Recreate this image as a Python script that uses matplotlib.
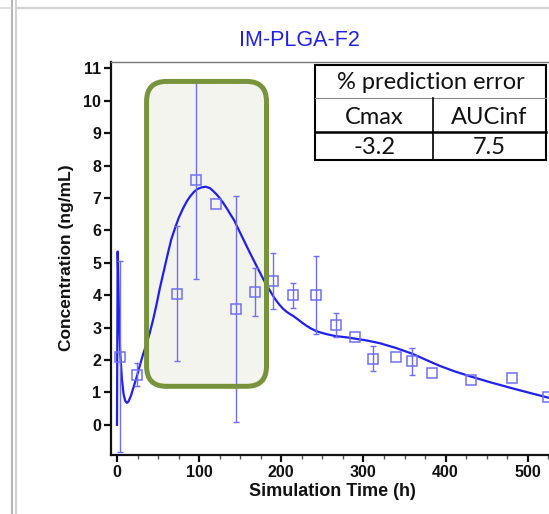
import numpy as np
import matplotlib
matplotlib.use("Agg")
import matplotlib.pyplot as plt
from matplotlib.patches import FancyBboxPatch, Rectangle
from matplotlib.lines import Line2D
from matplotlib.ticker import MultipleLocator

# ---------------- data ----------------
title = "IM-PLGA-F2"
xlabel = "Simulation Time (h)"
ylabel = "Concentration (ng/mL)"

# simulated profile
sim_t = [0, 0.8, 1.5, 2.5, 4, 6, 8, 10, 12, 14, 17, 20, 24, 28, 32, 36, 40, 44, 48,
         52, 57, 62, 66, 71, 75, 80, 85, 89, 94, 98, 103, 108, 113, 117, 121, 125,
         129, 134, 138, 143, 147, 152, 157, 162, 166, 170, 174, 178, 182, 186, 190,
         194, 198, 202, 206, 210, 214, 220, 225, 230, 235, 242, 248, 255, 266, 280,
         290, 305, 320, 340, 360, 375, 393, 410, 431, 455, 481, 505, 525, 535]
sim_c = [0, 5.35, 4.6, 3.3, 2.2, 1.4, 0.95, 0.74, 0.68, 0.72, 0.9, 1.15, 1.48, 1.85,
         2.2, 2.5, 2.85, 3.25, 3.7, 4.2, 4.75, 5.3, 5.72, 6.1, 6.38, 6.66, 6.9, 7.05,
         7.2, 7.28, 7.33, 7.35, 7.31, 7.22, 7.12, 7.0, 6.86, 6.67, 6.5, 6.3, 6.08,
         5.82, 5.56, 5.3, 5.1, 4.9, 4.7, 4.5, 4.32, 4.15, 3.98, 3.83, 3.7, 3.59, 3.5,
         3.43, 3.37, 3.26, 3.16, 3.07, 2.99, 2.9, 2.85, 2.8, 2.74, 2.7, 2.66, 2.6,
         2.52, 2.37, 2.19, 2.02, 1.82, 1.66, 1.49, 1.31, 1.13, 0.97, 0.84, 0.78]

# observed data (mean, SD; NaN = no error bar)
obs_t = [4, 24, 72.5, 96, 120.5, 144.5, 168, 189.5, 214, 242, 266, 290, 312, 339.5,
         359.5, 383, 431, 481, 525]
obs_c = [2.11, 1.55, 4.05, 7.57, 6.82, 3.57, 4.10, 4.43, 4.0, 4.0, 3.07, 2.71, 2.04,
         2.08, 1.96, 1.60, 1.37, 1.44, 0.87]
obs_sd = [2.94, 0.36, 2.08, 3.08, np.nan, 3.49, 0.74, 0.86, 0.39, 1.2, 0.37, np.nan,
          0.39, np.nan, 0.41, np.nan, np.nan, np.nan, np.nan]

table_header = "% prediction error"
table_cols = ["Cmax", "AUCinf"]
table_vals = ["-3.2", "7.5"]

# highlight region (data coords)
box_t = (36, 182)
box_c = (1.19, 10.6)

# ---------------- figure ----------------
W, H = 549, 514
fig = plt.figure(figsize=(W / 100, H / 100), dpi=100)
fig.patch.set_facecolor("white")

def fx(px):
    return px / W

def fy(py):
    return 1 - py / H

ax = fig.add_axes([fx(111), fy(455), fx(555) - fx(111), fy(62) - fy(455)])
ax.set_xlim(-7.3, 533.2)
ax.set_ylim(-0.93, 11.2)

line_col = "#1f1ff0"
obs_col = "#6f6ff5"

ax.plot(sim_t, sim_c, color=line_col, lw=1.6, zorder=3)

t = np.array(obs_t)
c = np.array(obs_c)
sd = np.array(obs_sd)
m = ~np.isnan(sd)
ax.errorbar(t[m], c[m], yerr=sd[m], fmt="none", ecolor=obs_col, elinewidth=1.0,
            capsize=2.5, capthick=1.0, zorder=3)
ax.plot(t, c, "s", mfc="none", mec=obs_col, mew=1.1, ms=6.5, zorder=4, clip_on=False)

# highlight box
rs = 24.0
asp = 0.62 / 24.0
fill = FancyBboxPatch((box_t[0], box_c[0]), box_t[1] - box_t[0], box_c[1] - box_c[0],
                      boxstyle=f"round,pad=0,rounding_size={rs}", mutation_aspect=asp,
                      facecolor="#f4f4ee", edgecolor="none", zorder=1)
ax.add_patch(fill)
border = FancyBboxPatch((box_t[0], box_c[0]), box_t[1] - box_t[0], box_c[1] - box_c[0],
                        boxstyle=f"round,pad=0,rounding_size={rs}", mutation_aspect=asp,
                        facecolor="none", edgecolor="#77933c", lw=3.6, zorder=6)
ax.add_patch(border)

# axes styling
for s in ["left", "bottom"]:
    ax.spines[s].set_linewidth(1.6)
    ax.spines[s].set_color("#111111")
ax.spines["top"].set_color("#777777")
ax.spines["top"].set_linewidth(1.0)
ax.spines["right"].set_visible(False)

ax.set_yticks(range(0, 12))
ax.set_xticks(range(0, 501, 100))
ax.xaxis.set_minor_locator(MultipleLocator(25))
ax.tick_params(axis="both", which="major", direction="out", length=5, width=1.6,
               colors="#111111", labelsize=11.5, pad=2)
ax.tick_params(axis="x", which="minor", direction="out", length=3, width=1.0,
               colors="#555555")
ax.tick_params(top=False, right=False)
for lab in ax.get_xticklabels() + ax.get_yticklabels():
    lab.set_fontweight("bold")
    lab.set_fontfamily("Liberation Sans")

fig.text(fx(332), fy(492), xlabel, ha="center", va="center", fontsize=13,
         fontweight="bold", family="Liberation Sans", color="#111111")
fig.text(fx(67), fy(258), ylabel, ha="center", va="center", rotation=90,
         fontsize=12.5, fontweight="bold", family="Liberation Sans", color="#111111")
fig.text(fx(299), fy(40), title, ha="center", va="center", fontsize=15.5,
         family="Liberation Sans", color="#2020e8")

# table
tl, tr, tt, tb = 315, 546, 65, 160
r1, r2 = 98, 132
cm = 433
fig.add_artist(Rectangle((fx(tl), fy(tb)), fx(tr) - fx(tl), fy(tt) - fy(tb),
                         transform=fig.transFigure, facecolor="white",
                         edgecolor="#000000", lw=1.5, zorder=10))
fig.add_artist(Line2D([fx(tl), fx(tr)], [fy(r1), fy(r1)], transform=fig.transFigure,
                      color="#888888", lw=0.8, zorder=11))
fig.add_artist(Line2D([fx(tl), fx(tr)], [fy(r2), fy(r2)], transform=fig.transFigure,
                      color="#000000", lw=1.8, zorder=11))
fig.add_artist(Line2D([fx(cm), fx(cm)], [fy(r1), fy(tb)], transform=fig.transFigure,
                      color="#000000", lw=1.2, zorder=11))
tf = dict(family="Lato", fontsize=17, color="#111111", ha="center", va="baseline",
          zorder=12)
fig.text(fx((tl + tr) / 2), fy(89), table_header, **tf)
fig.text(fx((tl + cm) / 2), fy(123.5), table_cols[0], **tf)
fig.text(fx((cm + tr) / 2), fy(123.5), table_cols[1], **tf)
fig.text(fx((tl + cm) / 2), fy(154), table_vals[0], **tf)
fig.text(fx((cm + tr) / 2), fy(154), table_vals[1], **tf)

# screenshot frame lines
fig.add_artist(Line2D([fx(12), fx(12)], [0, 1], transform=fig.transFigure,
                      color="#a8a8a8", lw=1.2))
fig.add_artist(Line2D([fx(16), fx(16)], [0, 1], transform=fig.transFigure,
                      color="#d2d2d2", lw=1.6))
fig.add_artist(Line2D([fx(16), 1], [fy(8), fy(8)], transform=fig.transFigure,
                      color="#d2d2d2", lw=1.6))
fig.add_artist(Line2D([0, fx(11)], [fy(8), fy(8)], transform=fig.transFigure,
                      color="#d8d8d8", lw=1.2))

fig.savefig("out.png", dpi=100)
